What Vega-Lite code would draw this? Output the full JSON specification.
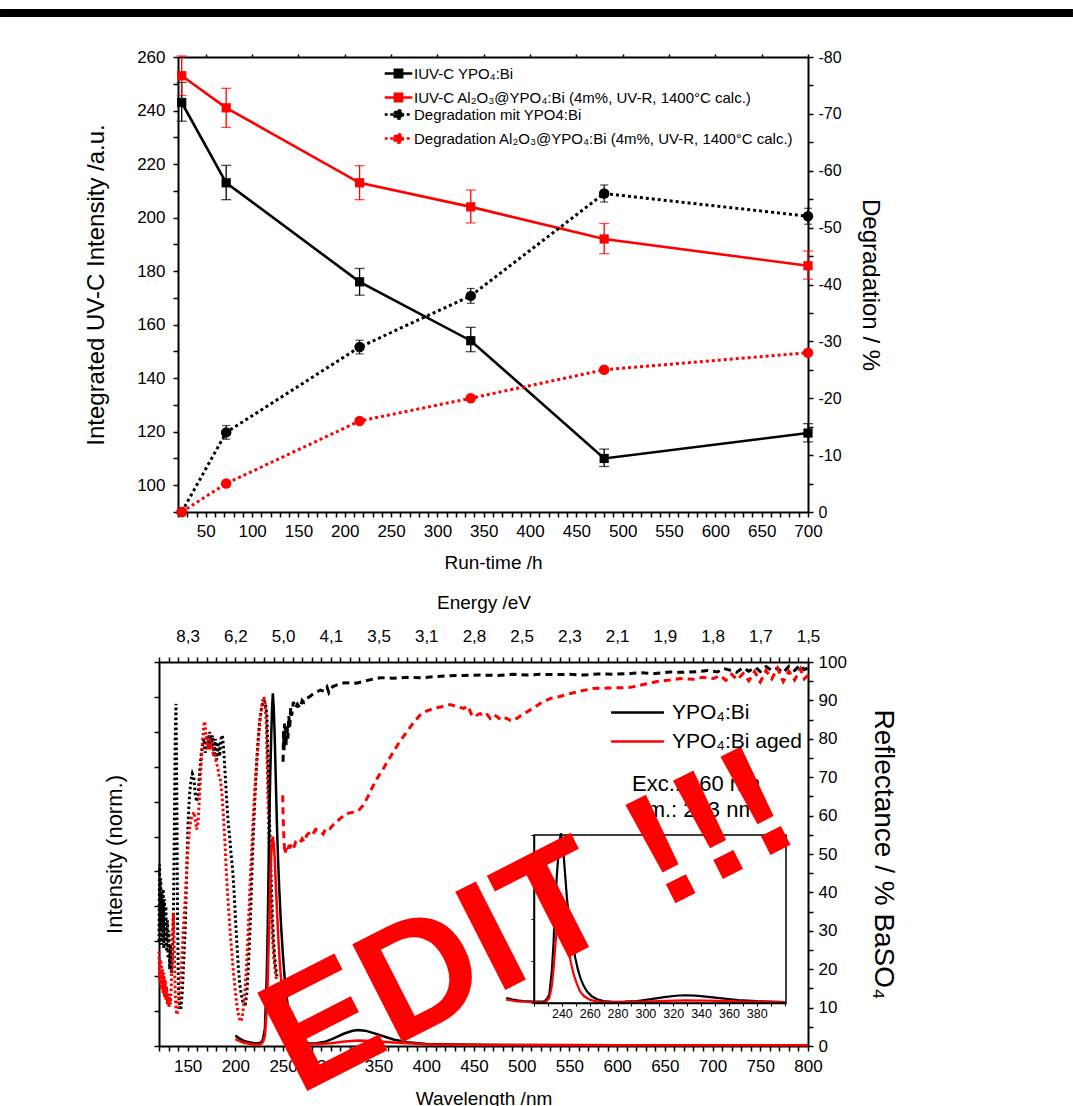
{
  "$schema": "https://vega.github.io/schema/vega-lite/v6.json",
  "padding": {"left": 0, "top": 9, "right": 0, "bottom": 0},
  "background": "white",
  "spacing": 21,
  "config": {
    "font": "Liberation Sans",
    "view": {"stroke": null},
    "axis": {"domainColor": "#000", "domainWidth": 2, "tickColor": "#000", "tickWidth": 1.5, "labelColor": "#000", "titleColor": "#000", "labelFontSize": 17, "titleFontSize": 19, "titleFontWeight": "normal", "grid": false, "labelFlush": false, "labelOverlap": false},
    "legend": {"labelColor": "#000"}
  },
  "resolve": {"scale": {"color": "independent"}, "legend": {"color": "independent"}},
  "datasets": {
    "inten": [
      {"t": 24, "v": 243, "lo": 236, "hi": 250.5, "series": "IUV-C YPO₄:Bi"},
      {"t": 72, "v": 213, "lo": 206.7, "hi": 219.5, "series": "IUV-C YPO₄:Bi"},
      {"t": 216, "v": 176, "lo": 171, "hi": 181, "series": "IUV-C YPO₄:Bi"},
      {"t": 336, "v": 154, "lo": 149.9, "hi": 159, "series": "IUV-C YPO₄:Bi"},
      {"t": 480, "v": 110, "lo": 107, "hi": 113.5, "series": "IUV-C YPO₄:Bi"},
      {"t": 700, "v": 119.5, "lo": 116.2, "hi": 123, "series": "IUV-C YPO₄:Bi"},
      {"t": 24, "v": 253, "lo": 245.6, "hi": 260.4, "series": "IUV-C Al₂O₃@YPO₄:Bi (4m%, UV-R, 1400°C calc.)"},
      {"t": 72, "v": 241, "lo": 233.7, "hi": 248.3, "series": "IUV-C Al₂O₃@YPO₄:Bi (4m%, UV-R, 1400°C calc.)"},
      {"t": 216, "v": 213, "lo": 206.7, "hi": 219.4, "series": "IUV-C Al₂O₃@YPO₄:Bi (4m%, UV-R, 1400°C calc.)"},
      {"t": 336, "v": 204, "lo": 198, "hi": 210.3, "series": "IUV-C Al₂O₃@YPO₄:Bi (4m%, UV-R, 1400°C calc.)"},
      {"t": 480, "v": 192, "lo": 186.5, "hi": 197.8, "series": "IUV-C Al₂O₃@YPO₄:Bi (4m%, UV-R, 1400°C calc.)"},
      {"t": 700, "v": 182, "lo": 177, "hi": 187.5, "series": "IUV-C Al₂O₃@YPO₄:Bi (4m%, UV-R, 1400°C calc.)"}
    ],
    "degr": [
      {"t": 24, "d": 0, "lo": 0, "hi": 0, "series": "Degradation mit YPO4:Bi"},
      {"t": 72, "d": -14, "lo": -15.2, "hi": -12.8, "series": "Degradation mit YPO4:Bi"},
      {"t": 216, "d": -29, "lo": -30.2, "hi": -27.8, "series": "Degradation mit YPO4:Bi"},
      {"t": 336, "d": -38, "lo": -39.3, "hi": -36.7, "series": "Degradation mit YPO4:Bi"},
      {"t": 480, "d": -56, "lo": -57.5, "hi": -54.5, "series": "Degradation mit YPO4:Bi"},
      {"t": 700, "d": -52, "lo": -53.4, "hi": -50.6, "series": "Degradation mit YPO4:Bi"},
      {"t": 24, "d": 0, "lo": 0, "hi": 0, "series": "Degradation Al₂O₃@YPO₄:Bi (4m%, UV-R, 1400°C calc.)"},
      {"t": 72, "d": -5, "lo": -5.6, "hi": -4.4, "series": "Degradation Al₂O₃@YPO₄:Bi (4m%, UV-R, 1400°C calc.)"},
      {"t": 216, "d": -16, "lo": -16.6, "hi": -15.4, "series": "Degradation Al₂O₃@YPO₄:Bi (4m%, UV-R, 1400°C calc.)"},
      {"t": 336, "d": -20, "lo": -20.6, "hi": -19.4, "series": "Degradation Al₂O₃@YPO₄:Bi (4m%, UV-R, 1400°C calc.)"},
      {"t": 480, "d": -25, "lo": -25.6, "hi": -24.4, "series": "Degradation Al₂O₃@YPO₄:Bi (4m%, UV-R, 1400°C calc.)"},
      {"t": 700, "d": -28, "lo": -28.6, "hi": -27.4, "series": "Degradation Al₂O₃@YPO₄:Bi (4m%, UV-R, 1400°C calc.)"}
    ],
    "exc": [
      {"lam":120,"val":0.30,"sample":"YPO₄:Bi"},{"lam":120.6,"val":0.52,"sample":"YPO₄:Bi"},{"lam":121.2,"val":0.33,"sample":"YPO₄:Bi"},{"lam":121.8,"val":0.48,"sample":"YPO₄:Bi"},{"lam":122.4,"val":0.29,"sample":"YPO₄:Bi"},{"lam":123,"val":0.44,"sample":"YPO₄:Bi"},{"lam":123.7,"val":0.31,"sample":"YPO₄:Bi"},{"lam":124.4,"val":0.45,"sample":"YPO₄:Bi"},{"lam":125.1,"val":0.28,"sample":"YPO₄:Bi"},{"lam":125.8,"val":0.42,"sample":"YPO₄:Bi"},{"lam":126.5,"val":0.30,"sample":"YPO₄:Bi"},{"lam":127.2,"val":0.40,"sample":"YPO₄:Bi"},{"lam":128,"val":0.27,"sample":"YPO₄:Bi"},{"lam":128.8,"val":0.36,"sample":"YPO₄:Bi"},{"lam":129.6,"val":0.25,"sample":"YPO₄:Bi"},{"lam":130.4,"val":0.33,"sample":"YPO₄:Bi"},{"lam":131.2,"val":0.22,"sample":"YPO₄:Bi"},{"lam":132,"val":0.29,"sample":"YPO₄:Bi"},{"lam":133,"val":0.21,"sample":"YPO₄:Bi"},{"lam":134,"val":0.26,"sample":"YPO₄:Bi"},{"lam":135,"val":0.35,"sample":"YPO₄:Bi"},{"lam":136,"val":0.6,"sample":"YPO₄:Bi"},{"lam":137,"val":0.88,"sample":"YPO₄:Bi"},{"lam":137.8,"val":0.98,"sample":"YPO₄:Bi"},{"lam":138.6,"val":0.72,"sample":"YPO₄:Bi"},{"lam":139.4,"val":0.38,"sample":"YPO₄:Bi"},{"lam":140.4,"val":0.16,"sample":"YPO₄:Bi"},{"lam":141.6,"val":0.11,"sample":"YPO₄:Bi"},{"lam":143,"val":0.11,"sample":"YPO₄:Bi"},{"lam":144.5,"val":0.16,"sample":"YPO₄:Bi"},{"lam":146,"val":0.25,"sample":"YPO₄:Bi"},{"lam":147.5,"val":0.34,"sample":"YPO₄:Bi"},{"lam":149,"val":0.5,"sample":"YPO₄:Bi"},{"lam":150.5,"val":0.64,"sample":"YPO₄:Bi"},{"lam":152,"val":0.72,"sample":"YPO₄:Bi"},{"lam":153.5,"val":0.76,"sample":"YPO₄:Bi"},{"lam":155,"val":0.78,"sample":"YPO₄:Bi"},{"lam":156.5,"val":0.77,"sample":"YPO₄:Bi"},{"lam":158,"val":0.72,"sample":"YPO₄:Bi"},{"lam":159.5,"val":0.70,"sample":"YPO₄:Bi"},{"lam":161,"val":0.72,"sample":"YPO₄:Bi"},{"lam":162.5,"val":0.78,"sample":"YPO₄:Bi"},{"lam":164,"val":0.83,"sample":"YPO₄:Bi"},{"lam":165.5,"val":0.86,"sample":"YPO₄:Bi"},{"lam":167,"val":0.88,"sample":"YPO₄:Bi"},{"lam":168.5,"val":0.84,"sample":"YPO₄:Bi"},{"lam":170,"val":0.89,"sample":"YPO₄:Bi"},{"lam":171.5,"val":0.85,"sample":"YPO₄:Bi"},{"lam":173,"val":0.90,"sample":"YPO₄:Bi"},{"lam":174.5,"val":0.85,"sample":"YPO₄:Bi"},{"lam":176,"val":0.89,"sample":"YPO₄:Bi"},{"lam":177.5,"val":0.83,"sample":"YPO₄:Bi"},{"lam":179,"val":0.88,"sample":"YPO₄:Bi"},{"lam":180.5,"val":0.82,"sample":"YPO₄:Bi"},{"lam":182,"val":0.87,"sample":"YPO₄:Bi"},{"lam":183.5,"val":0.83,"sample":"YPO₄:Bi"},{"lam":185,"val":0.88,"sample":"YPO₄:Bi"},{"lam":186.5,"val":0.89,"sample":"YPO₄:Bi"},{"lam":188,"val":0.84,"sample":"YPO₄:Bi"},{"lam":189.5,"val":0.77,"sample":"YPO₄:Bi"},{"lam":191,"val":0.70,"sample":"YPO₄:Bi"},{"lam":192.5,"val":0.64,"sample":"YPO₄:Bi"},{"lam":194,"val":0.60,"sample":"YPO₄:Bi"},{"lam":195.5,"val":0.55,"sample":"YPO₄:Bi"},{"lam":197,"val":0.51,"sample":"YPO₄:Bi"},{"lam":198.5,"val":0.45,"sample":"YPO₄:Bi"},{"lam":200,"val":0.37,"sample":"YPO₄:Bi"},{"lam":201.5,"val":0.30,"sample":"YPO₄:Bi"},{"lam":203,"val":0.23,"sample":"YPO₄:Bi"},{"lam":204.5,"val":0.18,"sample":"YPO₄:Bi"},{"lam":206,"val":0.15,"sample":"YPO₄:Bi"},{"lam":207.5,"val":0.13,"sample":"YPO₄:Bi"},{"lam":209,"val":0.12,"sample":"YPO₄:Bi"},{"lam":210.5,"val":0.12,"sample":"YPO₄:Bi"},{"lam":212,"val":0.15,"sample":"YPO₄:Bi"},{"lam":213.5,"val":0.22,"sample":"YPO₄:Bi"},{"lam":215,"val":0.31,"sample":"YPO₄:Bi"},{"lam":216.5,"val":0.42,"sample":"YPO₄:Bi"},{"lam":218,"val":0.55,"sample":"YPO₄:Bi"},{"lam":219.5,"val":0.65,"sample":"YPO₄:Bi"},{"lam":221,"val":0.74,"sample":"YPO₄:Bi"},{"lam":222.5,"val":0.82,"sample":"YPO₄:Bi"},{"lam":224,"val":0.88,"sample":"YPO₄:Bi"},{"lam":225.5,"val":0.93,"sample":"YPO₄:Bi"},{"lam":227,"val":0.96,"sample":"YPO₄:Bi"},{"lam":228.5,"val":0.98,"sample":"YPO₄:Bi"},{"lam":230,"val":0.99,"sample":"YPO₄:Bi"},{"lam":231.5,"val":0.98,"sample":"YPO₄:Bi"},{"lam":233,"val":0.95,"sample":"YPO₄:Bi"},{"lam":234.5,"val":0.78,"sample":"YPO₄:Bi"},{"lam":236,"val":0.62,"sample":"YPO₄:Bi"},{"lam":237.5,"val":0.48,"sample":"YPO₄:Bi"},{"lam":239,"val":0.36,"sample":"YPO₄:Bi"},{"lam":240.5,"val":0.28,"sample":"YPO₄:Bi"},{"lam":242,"val":0.23,"sample":"YPO₄:Bi"},{"lam":243.5,"val":0.20,"sample":"YPO₄:Bi"},
      {"lam":120,"val":0.27,"sample":"YPO₄:Bi aged"},{"lam":120.6,"val":0.19,"sample":"YPO₄:Bi aged"},{"lam":121.2,"val":0.25,"sample":"YPO₄:Bi aged"},{"lam":121.8,"val":0.17,"sample":"YPO₄:Bi aged"},{"lam":122.4,"val":0.24,"sample":"YPO₄:Bi aged"},{"lam":123,"val":0.16,"sample":"YPO₄:Bi aged"},{"lam":123.7,"val":0.22,"sample":"YPO₄:Bi aged"},{"lam":124.4,"val":0.15,"sample":"YPO₄:Bi aged"},{"lam":125.1,"val":0.21,"sample":"YPO₄:Bi aged"},{"lam":125.8,"val":0.14,"sample":"YPO₄:Bi aged"},{"lam":126.5,"val":0.19,"sample":"YPO₄:Bi aged"},{"lam":127.2,"val":0.13,"sample":"YPO₄:Bi aged"},{"lam":128,"val":0.17,"sample":"YPO₄:Bi aged"},{"lam":128.8,"val":0.12,"sample":"YPO₄:Bi aged"},{"lam":129.6,"val":0.15,"sample":"YPO₄:Bi aged"},{"lam":130.4,"val":0.11,"sample":"YPO₄:Bi aged"},{"lam":131.2,"val":0.14,"sample":"YPO₄:Bi aged"},{"lam":132,"val":0.12,"sample":"YPO₄:Bi aged"},{"lam":133,"val":0.18,"sample":"YPO₄:Bi aged"},{"lam":134,"val":0.30,"sample":"YPO₄:Bi aged"},{"lam":135,"val":0.38,"sample":"YPO₄:Bi aged"},{"lam":136,"val":0.28,"sample":"YPO₄:Bi aged"},{"lam":137,"val":0.15,"sample":"YPO₄:Bi aged"},{"lam":138,"val":0.10,"sample":"YPO₄:Bi aged"},{"lam":139,"val":0.09,"sample":"YPO₄:Bi aged"},{"lam":140,"val":0.11,"sample":"YPO₄:Bi aged"},{"lam":141.5,"val":0.15,"sample":"YPO₄:Bi aged"},{"lam":143,"val":0.20,"sample":"YPO₄:Bi aged"},{"lam":144.5,"val":0.28,"sample":"YPO₄:Bi aged"},{"lam":146,"val":0.36,"sample":"YPO₄:Bi aged"},{"lam":147.5,"val":0.42,"sample":"YPO₄:Bi aged"},{"lam":149,"val":0.50,"sample":"YPO₄:Bi aged"},{"lam":150.5,"val":0.57,"sample":"YPO₄:Bi aged"},{"lam":152,"val":0.62,"sample":"YPO₄:Bi aged"},{"lam":153.5,"val":0.65,"sample":"YPO₄:Bi aged"},{"lam":155,"val":0.66,"sample":"YPO₄:Bi aged"},{"lam":156.5,"val":0.67,"sample":"YPO₄:Bi aged"},{"lam":158,"val":0.65,"sample":"YPO₄:Bi aged"},{"lam":159.5,"val":0.62,"sample":"YPO₄:Bi aged"},{"lam":161,"val":0.64,"sample":"YPO₄:Bi aged"},{"lam":162.5,"val":0.72,"sample":"YPO₄:Bi aged"},{"lam":164,"val":0.80,"sample":"YPO₄:Bi aged"},{"lam":165.5,"val":0.87,"sample":"YPO₄:Bi aged"},{"lam":167,"val":0.92,"sample":"YPO₄:Bi aged"},{"lam":168,"val":0.93,"sample":"YPO₄:Bi aged"},{"lam":169.5,"val":0.88,"sample":"YPO₄:Bi aged"},{"lam":171,"val":0.85,"sample":"YPO₄:Bi aged"},{"lam":172.5,"val":0.89,"sample":"YPO₄:Bi aged"},{"lam":174,"val":0.86,"sample":"YPO₄:Bi aged"},{"lam":175.5,"val":0.87,"sample":"YPO₄:Bi aged"},{"lam":177,"val":0.83,"sample":"YPO₄:Bi aged"},{"lam":178.5,"val":0.84,"sample":"YPO₄:Bi aged"},{"lam":180,"val":0.81,"sample":"YPO₄:Bi aged"},{"lam":181.5,"val":0.80,"sample":"YPO₄:Bi aged"},{"lam":183,"val":0.77,"sample":"YPO₄:Bi aged"},{"lam":184.5,"val":0.76,"sample":"YPO₄:Bi aged"},{"lam":186,"val":0.72,"sample":"YPO₄:Bi aged"},{"lam":187.5,"val":0.66,"sample":"YPO₄:Bi aged"},{"lam":189,"val":0.59,"sample":"YPO₄:Bi aged"},{"lam":190.5,"val":0.50,"sample":"YPO₄:Bi aged"},{"lam":192,"val":0.43,"sample":"YPO₄:Bi aged"},{"lam":193.5,"val":0.37,"sample":"YPO₄:Bi aged"},{"lam":195,"val":0.31,"sample":"YPO₄:Bi aged"},{"lam":196.5,"val":0.26,"sample":"YPO₄:Bi aged"},{"lam":198,"val":0.21,"sample":"YPO₄:Bi aged"},{"lam":199.5,"val":0.17,"sample":"YPO₄:Bi aged"},{"lam":201,"val":0.13,"sample":"YPO₄:Bi aged"},{"lam":202.5,"val":0.10,"sample":"YPO₄:Bi aged"},{"lam":204,"val":0.08,"sample":"YPO₄:Bi aged"},{"lam":205.5,"val":0.07,"sample":"YPO₄:Bi aged"},{"lam":207,"val":0.08,"sample":"YPO₄:Bi aged"},{"lam":208.5,"val":0.11,"sample":"YPO₄:Bi aged"},{"lam":210,"val":0.16,"sample":"YPO₄:Bi aged"},{"lam":211.5,"val":0.22,"sample":"YPO₄:Bi aged"},{"lam":213,"val":0.30,"sample":"YPO₄:Bi aged"},{"lam":214.5,"val":0.40,"sample":"YPO₄:Bi aged"},{"lam":216,"val":0.50,"sample":"YPO₄:Bi aged"},{"lam":217.5,"val":0.58,"sample":"YPO₄:Bi aged"},{"lam":219,"val":0.67,"sample":"YPO₄:Bi aged"},{"lam":220.5,"val":0.74,"sample":"YPO₄:Bi aged"},{"lam":222,"val":0.80,"sample":"YPO₄:Bi aged"},{"lam":223.5,"val":0.86,"sample":"YPO₄:Bi aged"},{"lam":225,"val":0.91,"sample":"YPO₄:Bi aged"},{"lam":226.5,"val":0.95,"sample":"YPO₄:Bi aged"},{"lam":228,"val":0.98,"sample":"YPO₄:Bi aged"},{"lam":229.5,"val":1.0,"sample":"YPO₄:Bi aged"},{"lam":231,"val":0.99,"sample":"YPO₄:Bi aged"},{"lam":232.5,"val":0.92,"sample":"YPO₄:Bi aged"},{"lam":234,"val":0.72,"sample":"YPO₄:Bi aged"},{"lam":235.5,"val":0.56,"sample":"YPO₄:Bi aged"},{"lam":237,"val":0.43,"sample":"YPO₄:Bi aged"},{"lam":238.5,"val":0.33,"sample":"YPO₄:Bi aged"},{"lam":240,"val":0.26,"sample":"YPO₄:Bi aged"},{"lam":241.5,"val":0.22,"sample":"YPO₄:Bi aged"},{"lam":243,"val":0.19,"sample":"YPO₄:Bi aged"}
    ],
    "em": [
      {"lam":200,"val":0.03,"sample":"YPO₄:Bi"},{"lam":204,"val":0.022,"sample":"YPO₄:Bi"},{"lam":208,"val":0.016,"sample":"YPO₄:Bi"},{"lam":212,"val":0.012,"sample":"YPO₄:Bi"},{"lam":216,"val":0.01,"sample":"YPO₄:Bi"},{"lam":220,"val":0.008,"sample":"YPO₄:Bi"},{"lam":224,"val":0.008,"sample":"YPO₄:Bi"},{"lam":227,"val":0.01,"sample":"YPO₄:Bi"},{"lam":229,"val":0.02,"sample":"YPO₄:Bi"},{"lam":231,"val":0.05,"sample":"YPO₄:Bi"},{"lam":232.8,"val":0.19,"sample":"YPO₄:Bi"},{"lam":234,"val":0.35,"sample":"YPO₄:Bi"},{"lam":235.2,"val":0.59,"sample":"YPO₄:Bi"},{"lam":236.5,"val":0.77,"sample":"YPO₄:Bi"},{"lam":237.6,"val":0.89,"sample":"YPO₄:Bi"},{"lam":238.5,"val":0.97,"sample":"YPO₄:Bi"},{"lam":239.3,"val":1.01,"sample":"YPO₄:Bi"},{"lam":240.2,"val":0.97,"sample":"YPO₄:Bi"},{"lam":241.2,"val":0.89,"sample":"YPO₄:Bi"},{"lam":242.4,"val":0.76,"sample":"YPO₄:Bi"},{"lam":243.6,"val":0.63,"sample":"YPO₄:Bi"},{"lam":244.8,"val":0.53,"sample":"YPO₄:Bi"},{"lam":246,"val":0.45,"sample":"YPO₄:Bi"},{"lam":247.8,"val":0.35,"sample":"YPO₄:Bi"},{"lam":249.6,"val":0.27,"sample":"YPO₄:Bi"},{"lam":251.5,"val":0.2,"sample":"YPO₄:Bi"},{"lam":253.3,"val":0.15,"sample":"YPO₄:Bi"},{"lam":255.5,"val":0.105,"sample":"YPO₄:Bi"},{"lam":258,"val":0.07,"sample":"YPO₄:Bi"},{"lam":261.5,"val":0.04,"sample":"YPO₄:Bi"},{"lam":265.3,"val":0.022,"sample":"YPO₄:Bi"},{"lam":270,"val":0.012,"sample":"YPO₄:Bi"},{"lam":277,"val":0.007,"sample":"YPO₄:Bi"},{"lam":285,"val":0.008,"sample":"YPO₄:Bi"},{"lam":294,"val":0.012,"sample":"YPO₄:Bi"},{"lam":303,"val":0.022,"sample":"YPO₄:Bi"},{"lam":313.5,"val":0.035,"sample":"YPO₄:Bi"},{"lam":322,"val":0.043,"sample":"YPO₄:Bi"},{"lam":328,"val":0.046,"sample":"YPO₄:Bi"},{"lam":336,"val":0.044,"sample":"YPO₄:Bi"},{"lam":345,"val":0.037,"sample":"YPO₄:Bi"},{"lam":355,"val":0.028,"sample":"YPO₄:Bi"},{"lam":366.6,"val":0.018,"sample":"YPO₄:Bi"},{"lam":380,"val":0.011,"sample":"YPO₄:Bi"},{"lam":400,"val":0.006,"sample":"YPO₄:Bi"},{"lam":430,"val":0.004,"sample":"YPO₄:Bi"},{"lam":500,"val":0.003,"sample":"YPO₄:Bi"},{"lam":600,"val":0.002,"sample":"YPO₄:Bi"},{"lam":700,"val":0.002,"sample":"YPO₄:Bi"},{"lam":800,"val":0.002,"sample":"YPO₄:Bi"},
      {"lam":200,"val":0.02,"sample":"YPO₄:Bi aged"},{"lam":204,"val":0.015,"sample":"YPO₄:Bi aged"},{"lam":208,"val":0.01,"sample":"YPO₄:Bi aged"},{"lam":212,"val":0.008,"sample":"YPO₄:Bi aged"},{"lam":216,"val":0.006,"sample":"YPO₄:Bi aged"},{"lam":220,"val":0.004,"sample":"YPO₄:Bi aged"},{"lam":224,"val":0.004,"sample":"YPO₄:Bi aged"},{"lam":227,"val":0.006,"sample":"YPO₄:Bi aged"},{"lam":229,"val":0.012,"sample":"YPO₄:Bi aged"},{"lam":231,"val":0.03,"sample":"YPO₄:Bi aged"},{"lam":232.8,"val":0.1,"sample":"YPO₄:Bi aged"},{"lam":234,"val":0.2,"sample":"YPO₄:Bi aged"},{"lam":235.2,"val":0.33,"sample":"YPO₄:Bi aged"},{"lam":236.5,"val":0.46,"sample":"YPO₄:Bi aged"},{"lam":237.6,"val":0.55,"sample":"YPO₄:Bi aged"},{"lam":238.5,"val":0.59,"sample":"YPO₄:Bi aged"},{"lam":239.3,"val":0.6,"sample":"YPO₄:Bi aged"},{"lam":240.2,"val":0.58,"sample":"YPO₄:Bi aged"},{"lam":241.2,"val":0.54,"sample":"YPO₄:Bi aged"},{"lam":242.4,"val":0.46,"sample":"YPO₄:Bi aged"},{"lam":243.6,"val":0.39,"sample":"YPO₄:Bi aged"},{"lam":245,"val":0.31,"sample":"YPO₄:Bi aged"},{"lam":246.5,"val":0.24,"sample":"YPO₄:Bi aged"},{"lam":248.5,"val":0.17,"sample":"YPO₄:Bi aged"},{"lam":250.5,"val":0.12,"sample":"YPO₄:Bi aged"},{"lam":253,"val":0.07,"sample":"YPO₄:Bi aged"},{"lam":256,"val":0.04,"sample":"YPO₄:Bi aged"},{"lam":260,"val":0.02,"sample":"YPO₄:Bi aged"},{"lam":265,"val":0.01,"sample":"YPO₄:Bi aged"},{"lam":270,"val":0.006,"sample":"YPO₄:Bi aged"},{"lam":280,"val":0.005,"sample":"YPO₄:Bi aged"},{"lam":300,"val":0.008,"sample":"YPO₄:Bi aged"},{"lam":315,"val":0.013,"sample":"YPO₄:Bi aged"},{"lam":328,"val":0.016,"sample":"YPO₄:Bi aged"},{"lam":345,"val":0.014,"sample":"YPO₄:Bi aged"},{"lam":365,"val":0.01,"sample":"YPO₄:Bi aged"},{"lam":385,"val":0.007,"sample":"YPO₄:Bi aged"},{"lam":400,"val":0.005,"sample":"YPO₄:Bi aged"},{"lam":450,"val":0.003,"sample":"YPO₄:Bi aged"},{"lam":600,"val":0.002,"sample":"YPO₄:Bi aged"},{"lam":800,"val":0.002,"sample":"YPO₄:Bi aged"}
    ],
    "refl": [
      {"lam":250,"val":74,"sample":"YPO₄:Bi"},{"lam":250.5,"val":82,"sample":"YPO₄:Bi"},{"lam":251,"val":77,"sample":"YPO₄:Bi"},{"lam":251.5,"val":84,"sample":"YPO₄:Bi"},{"lam":252,"val":79,"sample":"YPO₄:Bi"},{"lam":252.5,"val":83,"sample":"YPO₄:Bi"},{"lam":253,"val":78,"sample":"YPO₄:Bi"},{"lam":254,"val":84,"sample":"YPO₄:Bi"},{"lam":255,"val":80,"sample":"YPO₄:Bi"},{"lam":256,"val":86,"sample":"YPO₄:Bi"},{"lam":257,"val":83,"sample":"YPO₄:Bi"},{"lam":258,"val":88,"sample":"YPO₄:Bi"},{"lam":259,"val":86,"sample":"YPO₄:Bi"},{"lam":260.8,"val":89.6,"sample":"YPO₄:Bi"},{"lam":263,"val":88,"sample":"YPO₄:Bi"},{"lam":265,"val":89,"sample":"YPO₄:Bi"},{"lam":267.8,"val":88,"sample":"YPO₄:Bi"},{"lam":270,"val":90,"sample":"YPO₄:Bi"},{"lam":272,"val":89.5,"sample":"YPO₄:Bi"},{"lam":274.8,"val":90.5,"sample":"YPO₄:Bi"},{"lam":278,"val":91,"sample":"YPO₄:Bi"},{"lam":282,"val":91.8,"sample":"YPO₄:Bi"},{"lam":286,"val":92.3,"sample":"YPO₄:Bi"},{"lam":289,"val":92.7,"sample":"YPO₄:Bi"},{"lam":293,"val":92.4,"sample":"YPO₄:Bi"},{"lam":296,"val":93.5,"sample":"YPO₄:Bi"},{"lam":298,"val":92,"sample":"YPO₄:Bi"},{"lam":302,"val":93.6,"sample":"YPO₄:Bi"},{"lam":306,"val":94,"sample":"YPO₄:Bi"},{"lam":312,"val":94.5,"sample":"YPO₄:Bi"},{"lam":320,"val":94.6,"sample":"YPO₄:Bi"},{"lam":327,"val":94.5,"sample":"YPO₄:Bi"},{"lam":335,"val":95,"sample":"YPO₄:Bi"},{"lam":345,"val":95.6,"sample":"YPO₄:Bi"},{"lam":352,"val":95.9,"sample":"YPO₄:Bi"},{"lam":365,"val":95.8,"sample":"YPO₄:Bi"},{"lam":380,"val":96,"sample":"YPO₄:Bi"},{"lam":395,"val":95.9,"sample":"YPO₄:Bi"},{"lam":410,"val":96.2,"sample":"YPO₄:Bi"},{"lam":422,"val":96.4,"sample":"YPO₄:Bi"},{"lam":440,"val":96.5,"sample":"YPO₄:Bi"},{"lam":456,"val":96.6,"sample":"YPO₄:Bi"},{"lam":475,"val":96.5,"sample":"YPO₄:Bi"},{"lam":491,"val":96.8,"sample":"YPO₄:Bi"},{"lam":505,"val":96.6,"sample":"YPO₄:Bi"},{"lam":519,"val":96.8,"sample":"YPO₄:Bi"},{"lam":535,"val":96.7,"sample":"YPO₄:Bi"},{"lam":550,"val":96.8,"sample":"YPO₄:Bi"},{"lam":565,"val":96.6,"sample":"YPO₄:Bi"},{"lam":580,"val":96.9,"sample":"YPO₄:Bi"},{"lam":595,"val":96.8,"sample":"YPO₄:Bi"},{"lam":614,"val":97,"sample":"YPO₄:Bi"},{"lam":625,"val":97.2,"sample":"YPO₄:Bi"},{"lam":640,"val":97,"sample":"YPO₄:Bi"},{"lam":655,"val":97.4,"sample":"YPO₄:Bi"},{"lam":670,"val":97.3,"sample":"YPO₄:Bi"},{"lam":684,"val":97.5,"sample":"YPO₄:Bi"},{"lam":695,"val":97.8,"sample":"YPO₄:Bi"},{"lam":705,"val":97.4,"sample":"YPO₄:Bi"},{"lam":712,"val":98.3,"sample":"YPO₄:Bi"},{"lam":718,"val":97.9,"sample":"YPO₄:Bi"},{"lam":725,"val":97.3,"sample":"YPO₄:Bi"},{"lam":732,"val":98.5,"sample":"YPO₄:Bi"},{"lam":738,"val":97.6,"sample":"YPO₄:Bi"},{"lam":745,"val":98.6,"sample":"YPO₄:Bi"},{"lam":750,"val":97.5,"sample":"YPO₄:Bi"},{"lam":756,"val":98.8,"sample":"YPO₄:Bi"},{"lam":762,"val":97.8,"sample":"YPO₄:Bi"},{"lam":768,"val":98.4,"sample":"YPO₄:Bi"},{"lam":774,"val":97.2,"sample":"YPO₄:Bi"},{"lam":780,"val":98.9,"sample":"YPO₄:Bi"},{"lam":786,"val":97.8,"sample":"YPO₄:Bi"},{"lam":792,"val":99.2,"sample":"YPO₄:Bi"},{"lam":796,"val":98,"sample":"YPO₄:Bi"},{"lam":800,"val":98.5,"sample":"YPO₄:Bi"},
      {"lam":249.6,"val":65.3,"sample":"YPO₄:Bi aged"},{"lam":250,"val":60,"sample":"YPO₄:Bi aged"},{"lam":250.5,"val":56.6,"sample":"YPO₄:Bi aged"},{"lam":251,"val":53,"sample":"YPO₄:Bi aged"},{"lam":252,"val":50,"sample":"YPO₄:Bi aged"},{"lam":253,"val":51.5,"sample":"YPO₄:Bi aged"},{"lam":254,"val":50.5,"sample":"YPO₄:Bi aged"},{"lam":256,"val":52,"sample":"YPO₄:Bi aged"},{"lam":257.3,"val":51.8,"sample":"YPO₄:Bi aged"},{"lam":259,"val":52.5,"sample":"YPO₄:Bi aged"},{"lam":261,"val":51.5,"sample":"YPO₄:Bi aged"},{"lam":263,"val":53,"sample":"YPO₄:Bi aged"},{"lam":265,"val":52.5,"sample":"YPO₄:Bi aged"},{"lam":267.8,"val":53,"sample":"YPO₄:Bi aged"},{"lam":270,"val":54,"sample":"YPO₄:Bi aged"},{"lam":272,"val":53.2,"sample":"YPO₄:Bi aged"},{"lam":275,"val":55,"sample":"YPO₄:Bi aged"},{"lam":278.3,"val":55.7,"sample":"YPO₄:Bi aged"},{"lam":281,"val":55,"sample":"YPO₄:Bi aged"},{"lam":284,"val":56.4,"sample":"YPO₄:Bi aged"},{"lam":288.8,"val":56,"sample":"YPO₄:Bi aged"},{"lam":292,"val":55.2,"sample":"YPO₄:Bi aged"},{"lam":295,"val":56.8,"sample":"YPO₄:Bi aged"},{"lam":299,"val":56.6,"sample":"YPO₄:Bi aged"},{"lam":304,"val":58,"sample":"YPO₄:Bi aged"},{"lam":309.7,"val":59.2,"sample":"YPO₄:Bi aged"},{"lam":316,"val":60.5,"sample":"YPO₄:Bi aged"},{"lam":323.7,"val":60.9,"sample":"YPO₄:Bi aged"},{"lam":329,"val":61.3,"sample":"YPO₄:Bi aged"},{"lam":334,"val":62.7,"sample":"YPO₄:Bi aged"},{"lam":339,"val":65,"sample":"YPO₄:Bi aged"},{"lam":344.6,"val":67.9,"sample":"YPO₄:Bi aged"},{"lam":350,"val":70.3,"sample":"YPO₄:Bi aged"},{"lam":355,"val":72.2,"sample":"YPO₄:Bi aged"},{"lam":360,"val":74.3,"sample":"YPO₄:Bi aged"},{"lam":365.6,"val":76.6,"sample":"YPO₄:Bi aged"},{"lam":372,"val":79.2,"sample":"YPO₄:Bi aged"},{"lam":379.6,"val":81.8,"sample":"YPO₄:Bi aged"},{"lam":386,"val":84,"sample":"YPO₄:Bi aged"},{"lam":393.6,"val":86.2,"sample":"YPO₄:Bi aged"},{"lam":400,"val":87.2,"sample":"YPO₄:Bi aged"},{"lam":407.5,"val":87.9,"sample":"YPO₄:Bi aged"},{"lam":415,"val":88.3,"sample":"YPO₄:Bi aged"},{"lam":425,"val":88.9,"sample":"YPO₄:Bi aged"},{"lam":432,"val":88.4,"sample":"YPO₄:Bi aged"},{"lam":439,"val":87.9,"sample":"YPO₄:Bi aged"},{"lam":444,"val":88.5,"sample":"YPO₄:Bi aged"},{"lam":447,"val":86.5,"sample":"YPO₄:Bi aged"},{"lam":449.5,"val":87,"sample":"YPO₄:Bi aged"},{"lam":453,"val":86.2,"sample":"YPO₄:Bi aged"},{"lam":456.5,"val":86.6,"sample":"YPO₄:Bi aged"},{"lam":460,"val":85.8,"sample":"YPO₄:Bi aged"},{"lam":464,"val":86.3,"sample":"YPO₄:Bi aged"},{"lam":467,"val":85.3,"sample":"YPO₄:Bi aged"},{"lam":471,"val":86.2,"sample":"YPO₄:Bi aged"},{"lam":474,"val":85.8,"sample":"YPO₄:Bi aged"},{"lam":478,"val":85,"sample":"YPO₄:Bi aged"},{"lam":481,"val":85.5,"sample":"YPO₄:Bi aged"},{"lam":484.5,"val":85.3,"sample":"YPO₄:Bi aged"},{"lam":488,"val":84.8,"sample":"YPO₄:Bi aged"},{"lam":491.4,"val":84.7,"sample":"YPO₄:Bi aged"},{"lam":496,"val":85.5,"sample":"YPO₄:Bi aged"},{"lam":500,"val":86.2,"sample":"YPO₄:Bi aged"},{"lam":505.4,"val":87,"sample":"YPO₄:Bi aged"},{"lam":512,"val":88,"sample":"YPO₄:Bi aged"},{"lam":519.4,"val":89.2,"sample":"YPO₄:Bi aged"},{"lam":530,"val":90.5,"sample":"YPO₄:Bi aged"},{"lam":540,"val":91,"sample":"YPO₄:Bi aged"},{"lam":551,"val":91.8,"sample":"YPO₄:Bi aged"},{"lam":563,"val":92.5,"sample":"YPO₄:Bi aged"},{"lam":575,"val":93.1,"sample":"YPO₄:Bi aged"},{"lam":590,"val":93.2,"sample":"YPO₄:Bi aged"},{"lam":605,"val":93.3,"sample":"YPO₄:Bi aged"},{"lam":614,"val":93.4,"sample":"YPO₄:Bi aged"},{"lam":625,"val":94,"sample":"YPO₄:Bi aged"},{"lam":641.7,"val":94.9,"sample":"YPO₄:Bi aged"},{"lam":655,"val":95.3,"sample":"YPO₄:Bi aged"},{"lam":666,"val":95.7,"sample":"YPO₄:Bi aged"},{"lam":680,"val":95.5,"sample":"YPO₄:Bi aged"},{"lam":690,"val":96,"sample":"YPO₄:Bi aged"},{"lam":701,"val":95.7,"sample":"YPO₄:Bi aged"},{"lam":708,"val":96.5,"sample":"YPO₄:Bi aged"},{"lam":714,"val":95.2,"sample":"YPO₄:Bi aged"},{"lam":720,"val":96.8,"sample":"YPO₄:Bi aged"},{"lam":726,"val":95.4,"sample":"YPO₄:Bi aged"},{"lam":732,"val":97,"sample":"YPO₄:Bi aged"},{"lam":738,"val":95.1,"sample":"YPO₄:Bi aged"},{"lam":744,"val":97.5,"sample":"YPO₄:Bi aged"},{"lam":750,"val":94.8,"sample":"YPO₄:Bi aged"},{"lam":756,"val":97.8,"sample":"YPO₄:Bi aged"},{"lam":762,"val":95.6,"sample":"YPO₄:Bi aged"},{"lam":768,"val":98.4,"sample":"YPO₄:Bi aged"},{"lam":774,"val":94.9,"sample":"YPO₄:Bi aged"},{"lam":780,"val":97.6,"sample":"YPO₄:Bi aged"},{"lam":786,"val":95.3,"sample":"YPO₄:Bi aged"},{"lam":792,"val":98.2,"sample":"YPO₄:Bi aged"},{"lam":796,"val":95.6,"sample":"YPO₄:Bi aged"},{"lam":800,"val":96.5,"sample":"YPO₄:Bi aged"}
    ]
  },
  "vconcat": [
    {
      "width": 649,
      "height": 455,
      "layer": [
        {
          "layer": [
            {
              "data": {"name": "inten"},
              "mark": {"type": "line", "strokeWidth": 2.6},
              "encoding": {
                "x": {"field": "t", "type": "quantitative", "scale": {"domain": [20, 700], "range": [19, 649], "nice": false, "zero": false},
                  "axis": {"orient": "bottom", "title": "Run-time /h", "values": [20,30,40,50,60,70,80,90,100,110,120,130,140,150,160,170,180,190,200,210,220,230,240,250,260,270,280,290,300,310,320,330,340,350,360,370,380,390,400,410,420,430,440,450,460,470,480,490,500,510,520,530,540,550,560,570,580,590,600,610,620,630,640,650,660,670,680,690,700], "labelExpr": "datum.value % 50 === 0 ? '' + datum.value : ''", "tickSize": 5, "labelPadding": 6, "titlePadding": 14, "labelFontSize": 17, "titleFontSize": 19}},
                "y": {"field": "v", "type": "quantitative", "scale": {"domain": [90, 260], "nice": false, "zero": false},
                  "axis": {"orient": "left", "offset": -19, "title": "Integrated UV-C Intensity /a.u.", "values": [90,100,110,120,130,140,150,160,170,180,190,200,210,220,230,240,250,260], "labelExpr": "datum.value % 20 === 0 && datum.value >= 100 ? '' + datum.value : ''", "tickSize": 5, "labelPadding": 8, "labelFontSize": 17, "titleFontSize": 24, "titlePadding": 28}},
                "color": {"field": "series", "type": "nominal",
                  "scale": {"domain": ["IUV-C YPO₄:Bi", "IUV-C Al₂O₃@YPO₄:Bi (4m%, UV-R, 1400°C calc.)"], "range": ["#000000", "#ff0000"]},
                  "legend": {"orient": "none", "legendX": 232, "legendY": 9, "title": null, "padding": 0, "labelFontSize": 15, "labelOffset": 8, "symbolSize": 144, "rowPadding": 5, "labelLimit": 700, "symbolStrokeWidth": 2.6, "symbolType": "M-2.3,0H2.3M-0.6,-0.6H0.6V0.6H-0.6Z"}}
              }
            },
            {
              "data": {"name": "inten"},
              "mark": {"type": "errorbar", "ticks": true, "size": 10, "thickness": 1.3},
              "encoding": {
                "x": {"field": "t", "type": "quantitative",
                  "axis": {"orient": "bottom", "title": "Run-time /h", "values": [20,30,40,50,60,70,80,90,100,110,120,130,140,150,160,170,180,190,200,210,220,230,240,250,260,270,280,290,300,310,320,330,340,350,360,370,380,390,400,410,420,430,440,450,460,470,480,490,500,510,520,530,540,550,560,570,580,590,600,610,620,630,640,650,660,670,680,690,700], "labelExpr": "datum.value % 50 === 0 ? '' + datum.value : ''", "tickSize": 5, "labelPadding": 6, "titlePadding": 14, "labelFontSize": 17, "titleFontSize": 19}},
                "y": {"field": "lo", "type": "quantitative",
                  "axis": {"orient": "left", "offset": -19, "title": "Integrated UV-C Intensity /a.u.", "values": [90,100,110,120,130,140,150,160,170,180,190,200,210,220,230,240,250,260], "labelExpr": "datum.value % 20 === 0 && datum.value >= 100 ? '' + datum.value : ''", "tickSize": 5, "labelPadding": 8, "labelFontSize": 17, "titleFontSize": 24, "titlePadding": 28}},
                "y2": {"field": "hi"},
                "color": {"field": "series", "type": "nominal", "legend": null}
              }
            },
            {
              "data": {"name": "inten"},
              "mark": {"type": "point", "shape": "square", "filled": true, "size": 85, "opacity": 1},
              "encoding": {
                "x": {"field": "t", "type": "quantitative",
                  "axis": {"orient": "bottom", "title": "Run-time /h", "values": [20,30,40,50,60,70,80,90,100,110,120,130,140,150,160,170,180,190,200,210,220,230,240,250,260,270,280,290,300,310,320,330,340,350,360,370,380,390,400,410,420,430,440,450,460,470,480,490,500,510,520,530,540,550,560,570,580,590,600,610,620,630,640,650,660,670,680,690,700], "labelExpr": "datum.value % 50 === 0 ? '' + datum.value : ''", "tickSize": 5, "labelPadding": 6, "titlePadding": 14, "labelFontSize": 17, "titleFontSize": 19}},
                "y": {"field": "v", "type": "quantitative",
                  "axis": {"orient": "left", "offset": -19, "title": "Integrated UV-C Intensity /a.u.", "values": [90,100,110,120,130,140,150,160,170,180,190,200,210,220,230,240,250,260], "labelExpr": "datum.value % 20 === 0 && datum.value >= 100 ? '' + datum.value : ''", "tickSize": 5, "labelPadding": 8, "labelFontSize": 17, "titleFontSize": 24, "titlePadding": 28}},
                "color": {"field": "series", "type": "nominal", "legend": null}
              }
            },
            {
              "data": {"values": [{}]},
              "mark": {"type": "rect", "color": "#000000"},
              "encoding": {
                "x": {"datum": -172.1, "type": "quantitative",
                  "axis": {"orient": "bottom", "title": "Run-time /h", "values": [20,30,40,50,60,70,80,90,100,110,120,130,140,150,160,170,180,190,200,210,220,230,240,250,260,270,280,290,300,310,320,330,340,350,360,370,380,390,400,410,420,430,440,450,460,470,480,490,500,510,520,530,540,550,560,570,580,590,600,610,620,630,640,650,660,670,680,690,700], "labelExpr": "datum.value % 50 === 0 ? '' + datum.value : ''", "tickSize": 5, "labelPadding": 6, "titlePadding": 14, "labelFontSize": 17, "titleFontSize": 19}},
                "x2": {"datum": 986},
                "y": {"datum": 277.93, "type": "quantitative",
                  "axis": {"orient": "left", "offset": -19, "title": "Integrated UV-C Intensity /a.u.", "values": [90,100,110,120,130,140,150,160,170,180,190,200,210,220,230,240,250,260], "labelExpr": "datum.value % 20 === 0 && datum.value >= 100 ? '' + datum.value : ''", "tickSize": 5, "labelPadding": 8, "labelFontSize": 17, "titleFontSize": 24, "titlePadding": 28}},
                "y2": {"datum": 274.94}
              }
            }
          ]
        },
        {
          "layer": [
            {
              "data": {"name": "degr"},
              "mark": {"type": "line", "strokeWidth": 3, "strokeDash": [3, 3]},
              "encoding": {
                "x": {"field": "t", "type": "quantitative", "scale": {"domain": [20, 700], "range": [19, 649], "nice": false, "zero": false},
                  "axis": {"orient": "top", "title": null, "labels": false, "tickSize": 3, "values": [50,100,150,200,250,300,350,400,450,500,550,600,650,700]}},
                "y": {"field": "d", "type": "quantitative", "scale": {"domain": [-80, 0], "reverse": true, "nice": false, "zero": false},
                  "axis": {"orient": "right", "title": "Degradation / %", "values": [-80,-75,-70,-65,-60,-55,-50,-45,-40,-35,-30,-25,-20,-15,-10,-5,0], "labelExpr": "datum.value % 10 === 0 ? '' + datum.value : ''", "tickSize": 5, "labelPadding": 5, "labelFontSize": 16, "titleFontSize": 24, "titlePadding": 16}},
                "stroke": {"field": "series", "type": "nominal",
                  "scale": {"domain": ["Degradation mit YPO4:Bi", "Degradation Al₂O₃@YPO₄:Bi (4m%, UV-R, 1400°C calc.)"], "range": ["#000000", "#ff0000"]},
                  "legend": {"orient": "none", "legendX": 232, "legendY": 50, "title": null, "padding": 0, "labelFontSize": 15, "labelOffset": 8, "symbolSize": 144, "rowPadding": 5, "labelLimit": 700, "symbolStrokeWidth": 2.6, "symbolDash": [3, 2.5], "symbolType": "M-2.3,0H2.3M-0.7,0A0.7,0.7 0 1,0 0.7,0A0.7,0.7 0 1,0 -0.7,0Z"}}
              }
            },
            {
              "data": {"name": "degr"},
              "transform": [{"filter": "datum.series == 'Degradation mit YPO4:Bi'"}],
              "mark": {"type": "errorbar", "ticks": true, "size": 8, "thickness": 1.2, "color": "#000000"},
              "encoding": {
                "x": {"field": "t", "type": "quantitative",
                  "axis": {"orient": "top", "title": null, "labels": false, "tickSize": 3, "values": [50,100,150,200,250,300,350,400,450,500,550,600,650,700]}},
                "y": {"field": "lo", "type": "quantitative",
                  "axis": {"orient": "right", "title": "Degradation / %", "values": [-80,-75,-70,-65,-60,-55,-50,-45,-40,-35,-30,-25,-20,-15,-10,-5,0], "labelExpr": "datum.value % 10 === 0 ? '' + datum.value : ''", "tickSize": 5, "labelPadding": 5, "labelFontSize": 16, "titleFontSize": 24, "titlePadding": 16}},
                "y2": {"field": "hi"}
              }
            },
            {
              "data": {"name": "degr"},
              "mark": {"type": "circle", "size": 110, "opacity": 1},
              "encoding": {
                "x": {"field": "t", "type": "quantitative",
                  "axis": {"orient": "top", "title": null, "labels": false, "tickSize": 3, "values": [50,100,150,200,250,300,350,400,450,500,550,600,650,700]}},
                "y": {"field": "d", "type": "quantitative",
                  "axis": {"orient": "right", "title": "Degradation / %", "values": [-80,-75,-70,-65,-60,-55,-50,-45,-40,-35,-30,-25,-20,-15,-10,-5,0], "labelExpr": "datum.value % 10 === 0 ? '' + datum.value : ''", "tickSize": 5, "labelPadding": 5, "labelFontSize": 16, "titleFontSize": 24, "titlePadding": 16}},
                "fill": {"field": "series", "type": "nominal",
                  "scale": {"domain": ["Degradation mit YPO4:Bi", "Degradation Al₂O₃@YPO₄:Bi (4m%, UV-R, 1400°C calc.)"], "range": ["#000000", "#ff0000"]},
                  "legend": null}
              }
            }
          ]
        }
      ],
      "resolve": {"scale": {"y": "independent"}, "axis": {"x": "independent", "y": "independent"}}
    },
    {
      "width": 649,
      "height": 384,
      "layer": [
        {
          "layer": [
            {
              "layer": [
                {
                  "data": {"name": "exc"},
                  "mark": {"type": "line", "strokeWidth": 3, "strokeDash": [2.5, 2.5]},
                  "encoding": {
                    "x": {"field": "lam", "type": "quantitative", "scale": {"domain": [120, 800], "nice": false, "zero": false},
                      "axis": {"orient": "bottom", "title": "Wavelength /nm", "values": [120,130,140,150,160,170,180,190,200,210,220,230,240,250,260,270,280,290,300,310,320,330,340,350,360,370,380,390,400,410,420,430,440,450,460,470,480,490,500,510,520,530,540,550,560,570,580,590,600,610,620,630,640,650,660,670,680,690,700,710,720,730,740,750,760,770,780,790,800], "labelExpr": "datum.value % 50 === 0 && datum.value >= 150 ? '' + datum.value : ''", "tickSize": 5, "labelPadding": 7, "titlePadding": 15, "labelFontSize": 17, "titleFontSize": 19}},
                    "y": {"field": "val", "type": "quantitative", "scale": {"domain": [0, 1.1], "nice": false, "zero": false},
                      "axis": {"orient": "left", "title": "Intensity (norm.)", "values": [0,0.1,0.2,0.3,0.4,0.5,0.6,0.7,0.8,0.9,1.0,1.1], "labels": false, "tickSize": 5, "titleFontSize": 22, "titlePadding": 27}},
                    "color": {"field": "sample", "type": "nominal",
                      "scale": {"domain": ["YPO₄:Bi", "YPO₄:Bi aged"], "range": ["#000000", "#ff0000"]},
                      "legend": {"orient": "none", "legendX": 468, "legendY": 40, "title": null, "padding": 0, "labelFontSize": 21, "labelOffset": 24, "symbolSize": 144, "rowPadding": 7, "labelLimit": 400, "symbolType": "M-4.4,0H4.4", "symbolStrokeWidth": 2.6, "symbolDash": [1, 0]}}
                  }
                },
                {
                  "data": {"name": "em"},
                  "mark": {"type": "line", "strokeWidth": 2.5},
                  "encoding": {
                    "x": {"field": "lam", "type": "quantitative",
                      "axis": {"orient": "bottom", "title": "Wavelength /nm", "values": [120,130,140,150,160,170,180,190,200,210,220,230,240,250,260,270,280,290,300,310,320,330,340,350,360,370,380,390,400,410,420,430,440,450,460,470,480,490,500,510,520,530,540,550,560,570,580,590,600,610,620,630,640,650,660,670,680,690,700,710,720,730,740,750,760,770,780,790,800], "labelExpr": "datum.value % 50 === 0 && datum.value >= 150 ? '' + datum.value : ''", "tickSize": 5, "labelPadding": 7, "titlePadding": 15, "labelFontSize": 17, "titleFontSize": 19}},
                    "y": {"field": "val", "type": "quantitative",
                      "axis": {"orient": "left", "title": "Intensity (norm.)", "values": [0,0.1,0.2,0.3,0.4,0.5,0.6,0.7,0.8,0.9,1.0,1.1], "labels": false, "tickSize": 5, "titleFontSize": 22, "titlePadding": 27}},
                    "color": {"field": "sample", "type": "nominal", "legend": null}
                  }
                }
              ]
            },
            {
              "data": {"name": "refl"},
              "mark": {"type": "line", "strokeWidth": 3, "strokeDash": [7, 5]},
              "encoding": {
                "x": {"field": "lam", "type": "quantitative", "scale": {"domain": [120, 800], "nice": false, "zero": false},
                  "axis": {"orient": "top", "title": "Energy /eV", "values": [120,130,140,150,160,170,180,190,200,210,220,230,240,250,260,270,280,290,300,310,320,330,340,350,360,370,380,390,400,410,420,430,440,450,460,470,480,490,500,510,520,530,540,550,560,570,580,590,600,610,620,630,640,650,660,670,680,690,700,710,720,730,740,750,760,770,780,790,800], "labelExpr": "datum.value % 50 === 0 ? replace(format(1239.84 / datum.value, '.1f'), '.', ',') : ''", "tickSize": 5, "labelPadding": 12, "titlePadding": 15, "labelFontSize": 17, "titleFontSize": 19}},
                "y": {"field": "val", "type": "quantitative", "scale": {"domain": [0, 100], "nice": false, "zero": false},
                  "axis": {"orient": "right", "title": "Reflectance / % BaSO₄", "values": [0,5,10,15,20,25,30,35,40,45,50,55,60,65,70,75,80,85,90,95,100], "labelExpr": "datum.value % 10 === 0 ? '' + datum.value : ''", "tickSize": 5, "labelPadding": 5, "labelFontSize": 17, "titleFontSize": 28, "titlePadding": 22}},
                "color": {"field": "sample", "type": "nominal", "legend": null}
              }
            }
          ],
          "resolve": {"scale": {"y": "independent"}, "axis": {"x": "independent", "y": "independent"}}
        },
        {
          "layer": [
            {
              "data": {"name": "em"},
              "transform": [{"filter": "datum.lam <= 401"}],
              "mark": {"type": "line", "strokeWidth": 2.2},
              "encoding": {
                "x": {"field": "lam", "type": "quantitative", "scale": {"domain": [220, 401], "range": [375, 627], "nice": false, "zero": false},
                  "axis": {"orient": "bottom", "offset": -43, "title": null, "values": [220,230,240,250,260,270,280,290,300,310,320,330,340,350,360,370,380,390,400], "labelExpr": "datum.value % 20 === 0 && datum.value >= 240 && datum.value <= 380 ? '' + datum.value : ''", "tickSize": 3, "labelFontSize": 12.5, "labelPadding": 1, "domainWidth": 1.5, "tickWidth": 1}},
                "y": {"field": "val", "type": "quantitative", "scale": {"domain": [0, 1], "range": [341, 173], "nice": false, "zero": false},
                  "axis": {"orient": "left", "offset": -375, "title": null, "values": [0, 0.25, 0.5, 0.75, 1], "labels": false, "tickSize": 3, "domainWidth": 1.5, "tickWidth": 1}},
                "color": {"field": "sample", "type": "nominal", "legend": null}
              }
            },
            {
              "data": {"values": [{}]},
              "mark": {"type": "rect", "fill": "transparent", "stroke": "#000000", "strokeWidth": 1.5},
              "encoding": {
                "x": {"datum": 220, "type": "quantitative",
                  "axis": {"orient": "bottom", "offset": -43, "title": null, "values": [220,230,240,250,260,270,280,290,300,310,320,330,340,350,360,370,380,390,400], "labelExpr": "datum.value % 20 === 0 && datum.value >= 240 && datum.value <= 380 ? '' + datum.value : ''", "tickSize": 3, "labelFontSize": 12.5, "labelPadding": 1, "domainWidth": 1.5, "tickWidth": 1}},
                "x2": {"datum": 401},
                "y": {"datum": 0, "type": "quantitative",
                  "axis": {"orient": "left", "offset": -375, "title": null, "values": [0, 0.25, 0.5, 0.75, 1], "labels": false, "tickSize": 3, "domainWidth": 1.5, "tickWidth": 1}},
                "y2": {"datum": 1}
              }
            }
          ]
        },
        {
          "data": {"values": [{}]},
          "layer": [
            {
              "mark": {"type": "text", "text": ["Exc.: 160 nm", "Em.: 233 nm"], "fontSize": 22, "align": "left", "baseline": "alphabetic", "lineHeight": 26, "color": "#000000"},
              "encoding": {
                "x": {"datum": 615.6, "type": "quantitative", "scale": {"domain": [120, 800], "nice": false, "zero": false}, "axis": null},
                "y": {"datum": 0.73, "type": "quantitative", "scale": {"domain": [0, 1.1], "nice": false, "zero": false}, "axis": null}
              }
            },
            {
              "mark": {"type": "text", "text": "EDIT !!!", "fontSize": 160, "fontWeight": "bold", "angle": -27, "color": "#ff0000", "align": "center", "baseline": "middle"},
              "encoding": {
                "x": {"datum": 508, "type": "quantitative", "axis": null},
                "y": {"datum": 0.35, "type": "quantitative", "axis": null}
              }
            }
          ]
        }
      ],
      "resolve": {"scale": {"x": "independent", "y": "independent"}, "axis": {"x": "independent", "y": "independent"}}
    }
  ]
}
